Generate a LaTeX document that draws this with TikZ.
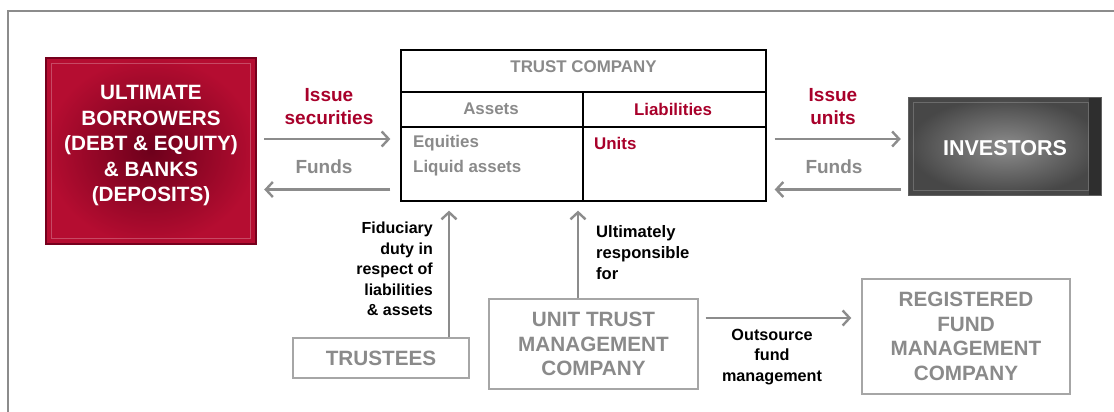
\documentclass[tikz,border=0pt]{standalone}
\usepackage{fontspec}
\setmainfont{Liberation Sans}
\usetikzlibrary{arrows.meta,shadings}
\definecolor{dred}{HTML}{A8002A}
\definecolor{lgray}{HTML}{8A8A8A}
\definecolor{bgray}{HTML}{A6A6A6}
\definecolor{agray}{HTML}{8C8C8C}
\tikzset{
  arr/.style={draw=agray, line width=2.6pt, -{Straight Barb[length=7pt,width=15pt,line width=2.4pt]}},
  wbox/.style={draw=bgray, line width=1.4pt, fill=white, align=center, font=\fontsize{20.7}{24.5}\selectfont\bfseries, text=lgray, inner sep=0pt},
  lbl/.style={align=center, inner sep=0pt, font=\fontsize{19}{23}\selectfont\bfseries},
  note/.style={inner sep=0pt, font=\fontsize{16}{20.5}\selectfont\bfseries, text=black},
  tbl/.style={inner sep=0pt, font=\fontsize{16.9}{20}\selectfont\bfseries},
}
\begin{document}
\begin{tikzpicture}[x=1pt,y=-1pt]
\useasboundingbox (0,0) rectangle (1114,412);
% frame
\draw[agray, line width=1.4pt] (8,412) -- (8,11) -- (1114,11);
% y-level coordinates
\coordinate (ya) at (0,139);
\coordinate (yb) at (0,189.5);
\coordinate (xa) at (449,0);
\coordinate (xb) at (578,0);
\coordinate (yc) at (0,318);
% borrowers
\node[minimum width=210pt, minimum height=186pt, inner sep=0pt, inner color=dred!65!black, outer color=dred!90!red!95!white] (bor) at (151,151) {};
\draw[dred!70!black, line width=1.5pt] (bor.north west) rectangle (bor.south east);
\draw[white, opacity=0.25, line width=1pt] ([xshift=6pt,yshift=-6pt]bor.north west) rectangle ([xshift=-6pt,yshift=6pt]bor.south east);
\node[align=center, inner sep=0pt, text=white, font=\fontsize{20.7}{25.5}\selectfont\bfseries] (bortext) at (151,146) {ULTIMATE\\BORROWERS\\(DEBT \& EQUITY)\\\& BANKS\\(DEPOSITS)};
% investors
\node[minimum width=192pt, minimum height=97pt, inner sep=0pt, inner color=black!45, outer color=black!72] (inv) at (1005,146.5) {};
\fill[black!82] ([xshift=-12pt]inv.north east) rectangle (inv.south east);
\draw[black!62, line width=1pt] (inv.north west) rectangle (inv.south east);
\draw[white, opacity=0.2, line width=1pt] ([xshift=5pt,yshift=-5pt]inv.north west) rectangle ([xshift=-13pt,yshift=5pt]inv.south east);
\node[inner sep=0pt, text=white, font=\fontsize{21.5}{24}\selectfont\bfseries] (invtext) at (1005,148) {INVESTORS};
% trust company table
\node[draw=black, line width=1.3pt, minimum width=365pt, minimum height=151pt, inner sep=0pt] (tc) at (583.5,125.5) {};
\coordinate (r1) at (0,92);
\coordinate (r2) at (0,127);
\coordinate (cv) at (583,0);
\draw[black, line width=1.3pt] (tc.west |- r1) -- (tc.east |- r1);
\draw[black, line width=1.3pt] (tc.west |- r2) -- (tc.east |- r2);
\draw[black, line width=1.3pt] (cv |- r1) -- (cv |- tc.south);
\node[tbl, text=lgray] (tctitle) at (583.5,67) {TRUST COMPANY};
\node[tbl, text=lgray] (assets) at (491,109) {Assets};
\node[tbl, text=dred] (liab) at (673,109) {Liabilities};
\node[tbl, text=lgray, anchor=west] (equ) at (413,143) {Equities};
\node[tbl, text=lgray, anchor=west] (liq) at (413,168) {Liquid assets};
\node[tbl, text=dred, anchor=west] (units) at (594,143) {Units};
% lower boxes
\node[wbox, minimum width=176pt, minimum height=40pt] (tru) at (381,358) {TRUSTEES};
\node[wbox, minimum width=209pt, minimum height=90pt] (utmc) at (593.5,344) {UNIT TRUST\\MANAGEMENT\\COMPANY};
\node[wbox, minimum width=208pt, minimum height=115pt] (reg) at (966,336.5) {REGISTERED\\FUND\\MANAGEMENT\\COMPANY};
% horizontal arrows
\draw[arr, shorten <=8pt, shorten >=10pt] (bor.east |- ya) -- (tc.west |- ya);
\draw[arr, shorten <=10pt, shorten >=8pt] (tc.west |- yb) -- (bor.east |- yb);
\draw[arr, shorten <=8pt, shorten >=8pt] (tc.east |- ya) -- (inv.west |- ya);
\draw[arr, shorten <=8pt, shorten >=8pt] (inv.west |- yb) -- (tc.east |- yb);
% vertical arrows
\draw[arr, shorten >=9pt] (xa |- tru.north) -- (xa |- tc.south);
\draw[arr, shorten >=9pt] (xb |- utmc.north) -- (xb |- tc.south);
% outsource arrow
\draw[arr, shorten <=7pt, shorten >=10pt] (utmc.east |- yc) -- (reg.west |- yc);
% labels
\node[lbl, text=dred] (issec) at (329,107) {Issue\\securities};
\node[lbl, text=lgray] (fundsl) at (324,167) {Funds};
\node[lbl, text=dred] (isun) at (833,107) {Issue\\units};
\node[lbl, text=lgray] (fundsr) at (834,167) {Funds};
\node[note, align=right, anchor=east] (fid) at (433,269) {Fiduciary\\duty in\\respect of\\liabilities\\\& assets};
\node[note, align=left, anchor=west, font=\fontsize{16.6}{21}\selectfont\bfseries] (ult) at (596,253) {Ultimately\\responsible\\for};
\node[note, align=center, font=\fontsize{16.2}{20.5}\selectfont\bfseries] (outs) at (772,357) {Outsource\\fund\\management};
\end{tikzpicture}
\end{document}
